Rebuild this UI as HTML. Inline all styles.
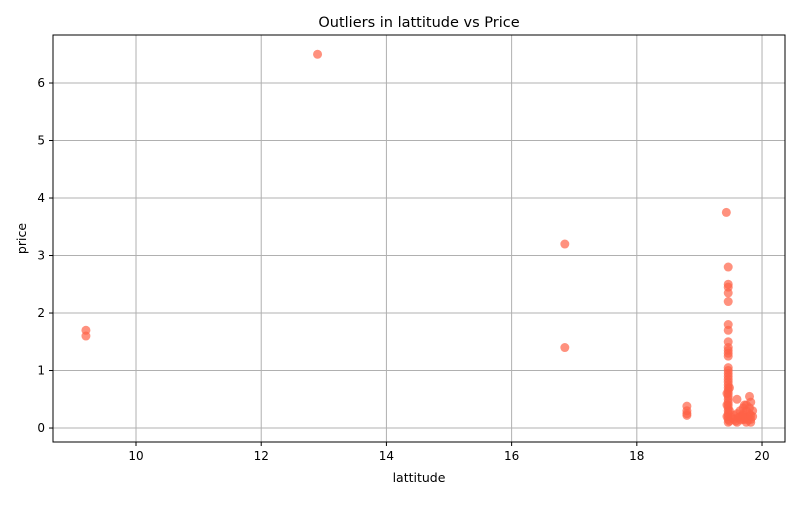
<!DOCTYPE html>
<html><head><meta charset="utf-8"><style>
body{margin:0;background:#fff;}
svg text{font-family:"DejaVu Sans","Liberation Sans",sans-serif;fill:#000;}
</style></head><body>
<svg id="chart" width="800" height="500"></svg>
<script>
const lats = [12.9,16.85,16.85,9.2,9.2,19.43,19.46,19.46,19.46,19.46,19.46,19.46,19.46,19.46,19.46,19.46,19.46,19.46,19.46,19.46,19.46,19.46,19.46,19.46,19.46,19.46,19.46,19.46,19.46,19.46,19.46,19.46,19.46,19.46,19.46,19.46,19.46,19.46,18.8,18.8,18.8,18.8,19.6,19.55,19.6,19.65,19.7,19.7,19.72,19.75,19.75,19.78,19.8,19.8,19.82,19.82,19.85,19.85,19.6,19.65,19.7,19.75,19.8,19.82,19.68,19.72,19.44,19.44,19.44,19.48,19.48,19.48,19.52,19.55,19.58,19.62,19.66,19.7,19.74,19.78,19.82];
const prices = [6.5,3.2,1.4,1.7,1.6,3.75,2.8,2.5,2.45,2.35,2.2,1.8,1.7,1.5,1.4,1.35,1.3,1.25,1.05,1.0,0.95,0.9,0.85,0.8,0.75,0.7,0.65,0.6,0.55,0.5,0.45,0.4,0.35,0.3,0.25,0.2,0.15,0.1,0.38,0.3,0.25,0.22,0.5,0.15,0.25,0.2,0.35,0.15,0.4,0.3,0.1,0.2,0.55,0.25,0.45,0.15,0.3,0.2,0.1,0.3,0.25,0.4,0.35,0.1,0.2,0.15,0.6,0.4,0.2,0.7,0.3,0.12,0.18,0.22,0.12,0.18,0.14,0.22,0.18,0.14,0.22];
const xTicks = [10,12,14,16,18,20];
const yTicks = [0,1,2,3,4,5,6];
const L=53,R=785,T=35,B=442;
const xmin=8.674,xmax=20.367,ymin=-0.243,ymax=6.835;
const xs=v=>L+(v-xmin)/(xmax-xmin)*(R-L);
const ys=v=>B-(v-ymin)/(ymax-ymin)*(B-T);
const svg=document.getElementById('chart');
const NS='http://www.w3.org/2000/svg';
function mk(tag,attrs){const e=document.createElementNS(NS,tag);for(const k in attrs)e.setAttribute(k,attrs[k]);svg.appendChild(e);return e;}
xTicks.forEach(t=>{
  const g=mk('line',{x1:xs(t),x2:xs(t),y1:T,y2:B,stroke:'#b0b0b0','stroke-width':1});
  
  
  mk('line',{x1:xs(t),x2:xs(t),y1:B,y2:B+4,stroke:'#000'});
  const tx=mk('text',{x:xs(t),y:B+18,'text-anchor':'middle','font-size':12});tx.textContent=t;
  
  
});
yTicks.forEach(t=>{
  const g=mk('line',{x1:L,x2:R,y1:ys(t),y2:ys(t),stroke:'#b0b0b0','stroke-width':1});
  
  
  mk('line',{x1:L-4,x2:L,y1:ys(t),y2:ys(t),stroke:'#000'});
  const tx=mk('text',{x:L-8,y:ys(t)+4,'text-anchor':'end','font-size':12});tx.textContent=t;
  
  
});
lats.forEach((v,i)=>{
  const c=mk('circle',{cx:xs(v),cy:ys(prices[i]),r:4.5,fill:'#ff6347','fill-opacity':0.7});
  
  
});
const fr=mk('rect',{x:L,y:T,width:R-L,height:B-T,fill:'none',stroke:'#000','stroke-width':1});


const ti=mk('text',{x:(L+R)/2,y:27,'text-anchor':'middle','font-size':14.5});ti.textContent='Outliers in lattitude vs Price';


const xl=mk('text',{x:(L+R)/2,y:482,'text-anchor':'middle','font-size':12.5});xl.textContent='lattitude';


const yl=mk('text',{x:0,y:0,'text-anchor':'middle','font-size':12.5,transform:`translate(26,${(T+B)/2}) rotate(-90)`});yl.textContent='price';


</script>
</body></html>
